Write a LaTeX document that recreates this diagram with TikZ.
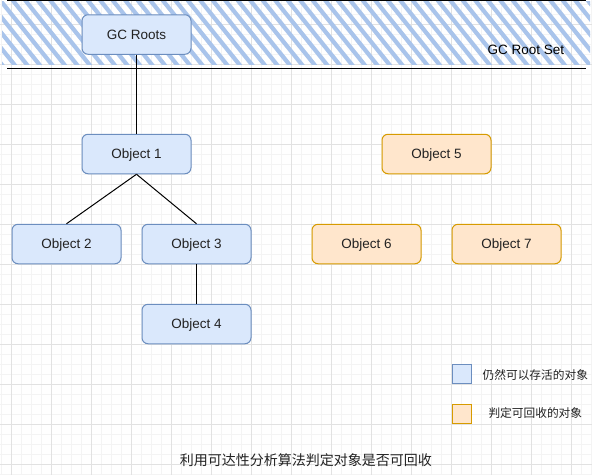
\documentclass[tikz,border=0pt]{standalone}
\usepackage{fontspec}
\setmainfont{Liberation Sans}
\newfontfamily\cjk{Noto Sans CJK SC}
\definecolor{bluefill}{HTML}{DAE8FC}
\definecolor{bluedraw}{HTML}{6C8EBF}
\definecolor{orfill}{HTML}{FFE6CC}
\definecolor{ordraw}{HTML}{D79B00}
\definecolor{hatchc}{HTML}{A9C4EB}
\definecolor{gridmin}{HTML}{F4F4F4}
\definecolor{gridmaj}{HTML}{E2E2E2}
\definecolor{txt}{HTML}{222222}
\tikzset{
  objbox/.style={rectangle, rounded corners=6pt, minimum width=109pt, minimum height=39.5pt, line width=1pt, text=txt, font=\fontsize{13.5}{16}\selectfont, text height=9.7pt, text depth=0pt},
  blueobj/.style={objbox, fill=bluefill, draw=bluedraw},
  orobj/.style={objbox, fill=orfill, draw=ordraw},
  link/.style={line width=1pt, black},
  hatchline/.style={line width=4.2pt, hatchc, line cap=round},
  legbox/.style={rectangle, minimum width=19.5pt, minimum height=19.5pt, line width=1pt, inner sep=0pt},
}
\begin{document}
\begin{tikzpicture}[x=1pt, y=-1pt]
\useasboundingbox (0,0) rectangle (592,475);
\fill[white] (0,0) rectangle (592,475);
% grid
\foreach \i in {0,...,59} { \draw[gridmin, line width=1pt] ({1.7+10*\i},0) -- ({1.7+10*\i},475); }
\foreach \j in {0,...,47} { \draw[gridmin, line width=1pt] (0,{4.3+10*\j}) -- (592,{4.3+10*\j}); }
\foreach \i in {0,...,14} { \draw[gridmaj, line width=1pt] ({11.7+40*\i},0) -- ({11.7+40*\i},475); }
\foreach \j in {0,...,11} { \draw[gridmaj, line width=1pt] (0,{24.3+40*\j}) -- (592,{24.3+40*\j}); }
% hatch
\begin{scope}
\clip (2,1.5) rectangle (590,64);
\foreach \k in {-6,...,48} { \draw[hatchline] ({\k*12.5},0) -- ({\k*12.5+53},66); }
\end{scope}
\draw[line width=1pt] (7,0.7) -- (586,0.7);
\draw[line width=1pt] (7,68.3) -- (586,68.3);
\node[text=black, font=\fontsize{13.5}{16}\selectfont, text height=9.7pt, text depth=0pt] (rootset) at (525.8,50) {GC Root Set};
% nodes
\node[blueobj] (gc) at (136.5,34.5) {GC Roots};
\node[blueobj] (o1) at (136.5,154) {Object 1};
\node[blueobj] (o2) at (66.5,244) {Object 2};
\node[blueobj] (o3) at (196.5,244) {Object 3};
\node[blueobj] (o4) at (196.5,324) {Object 4};
\node[orobj] (o5) at (436.5,154) {Object 5};
\node[orobj] (o6) at (366.5,244) {Object 6};
\node[orobj] (o7) at (506.5,244) {Object 7};
% links
\draw[link] (gc.south) -- (o1.north);
\draw[link] (o1.south) -- (o2.north);
\draw[link] (o1.south) -- (o3.north);
\draw[link] (o3.south) -- (o4.north);
% legend
\node[legbox, fill=bluefill, draw=bluedraw] (lb) at (461.8,374.2) {};
\node[legbox, fill=orfill, draw=ordraw] (lo) at (461.8,414.2) {};
\node[text=txt, font=\cjk\fontsize{11.7}{14}\selectfont] (lbt) at (535.3,375) {仍然可以存活的对象};
\node[text=txt, font=\cjk\fontsize{11.7}{14}\selectfont] (lot) at (535.3,413.5) {判定可回收的对象};
% caption
\node[text=txt, font=\cjk\fontsize{14}{16}\selectfont] (cap) at (305.8,460) {利用可达性分析算法判定对象是否可回收};
\end{tikzpicture}
\end{document}
